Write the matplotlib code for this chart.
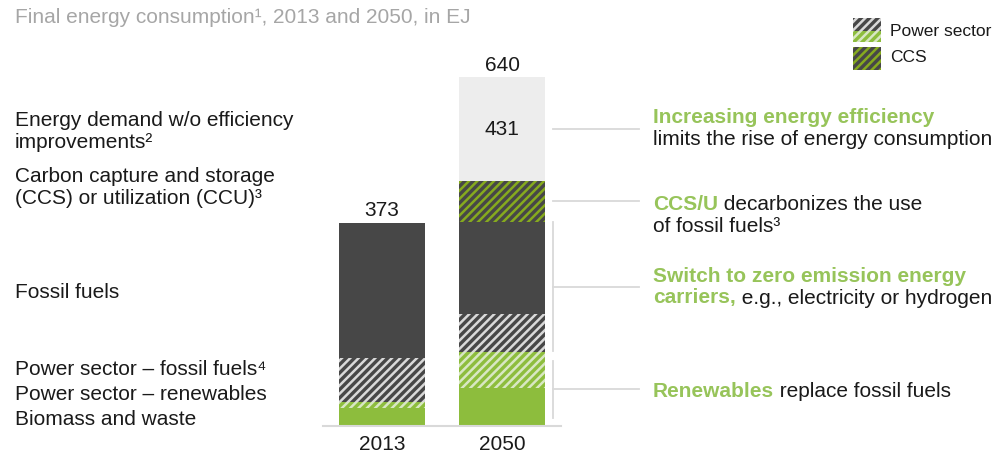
import matplotlib
matplotlib.use("Agg")
import matplotlib.pyplot as plt
import matplotlib.transforms as mtransforms
from matplotlib.patches import Rectangle

# DATA (EJ)
years = ["2013", "2050"]
biomass = [33, 69]
power_renewables = [11, 67]
power_fossil = [81, 69]
fossil_fuels = [248, 170]
ccs = [0, 75]
no_efficiency = [0, 190]
total_labels = ["373", "640"]
efficiency_label = "431"

left_labels = [
    ("Energy demand w/o efficiency", 126),
    ("improvements²", 148),
    ("Carbon capture and storage", 182),
    ("(CCS) or utilization (CCU)³", 204),
    ("Fossil fuels", 298),
    ("Power sector – fossil fuels⁴", 375),
    ("Power sector – renewables", 400),
    ("Biomass and waste", 425),
]

# colours
DARK = "#474747"
GREEN = "#8dbd3d"
LIGHT_GREY = "#ededed"
STRIPE_GREY = "#d9d9d9"
STRIPE_GREEN = "#d8e7c3"
STRIPE_OLIVE = "#86aa1e"
TEXT_GREEN = "#97c45a"
LINE_GREY = "#d9d9d9"
INK = "#1a1a1a"
FS = 15

plt.rcParams["font.family"] = ["Liberation Sans", "DejaVu Sans"]
plt.rcParams["font.size"] = FS
plt.rcParams["hatch.linewidth"] = 1.8

W, H = 996, 455
fig = plt.figure(figsize=(W / 100, H / 100), dpi=100)
# pixel coords measured from the top-left corner
px = mtransforms.Affine2D().scale(0.01, -0.01).translate(0, H / 100) + fig.dpi_scale_trans

# axes: baseline at y=425.7px, 0.5442 px per EJ, bars 120px apart
base_y = 425.7
ymax = 700
ax_h = ymax * 0.5442
ax = fig.add_axes([323 / W, (H - base_y) / H, 238 / W, ax_h / H])
ax.set_xlim((323 - 382) / 120, (561 - 382) / 120)
ax.set_ylim(0, ymax)
ax.patch.set_alpha(0)

x = [0, 1]
bw = 86 / 120

bottom = [0, 0]
def stack(vals, color, hatch=None, ecolor=None):
    global bottom
    ax.bar(x, vals, bw, bottom=bottom, color=color, hatch=hatch,
           edgecolor=ecolor if ecolor else color, linewidth=0)
    bottom = [b + v for b, v in zip(bottom, vals)]

stack(biomass, GREEN)
stack(power_renewables, GREEN, "////", STRIPE_GREEN)
stack(power_fossil, DARK, "////", STRIPE_GREY)
stack(fossil_fuels, DARK)
stack(ccs, DARK, "////", STRIPE_OLIVE)
below_eff = bottom[:]
stack(no_efficiency, LIGHT_GREY)

for xi, tot, lab in zip(x, bottom, total_labels):
    ax.annotate(lab, (xi, tot), xytext=(0, 4.5), textcoords="offset points",
                ha="center", va="baseline", fontsize=FS, color=INK)
ax.text(1, below_eff[1] + no_efficiency[1] / 2, efficiency_label,
        ha="center", va="center", fontsize=FS, color=INK)

# axes styling
for s in ["top", "right", "left"]:
    ax.spines[s].set_visible(False)
ax.spines["bottom"].set_color(LINE_GREY)
ax.spines["bottom"].set_linewidth(1.5)
ax.set_yticks([])
ax.set_xticks(x)
ax.set_xticklabels(years, fontsize=FS, color=INK)
ax.tick_params(axis="x", length=0, pad=7)

# brackets / connector lines to the right-hand annotations
xv = (552.7 - 382) / 120
xe = (639 - 382) / 120
gap = 9 / 0.5442
renew_top = biomass[1] + power_renewables[1]
fossil_top = renew_top + power_fossil[1] + fossil_fuels[1]
lk = dict(color=LINE_GREY, lw=1.3, clip_on=False)
ax.plot([xv, xe], [below_eff[1] + no_efficiency[1] / 2] * 2, **lk)
ax.plot([xv, xe], [fossil_top + ccs[1] / 2] * 2, **lk)
ax.plot([xv, xv], [renew_top + 0.5, fossil_top], **lk)
ax.plot([xv, xe], [(renew_top + fossil_top) / 2] * 2, **lk)
ax.plot([xv, xv], [14, renew_top - gap], **lk)
ax.plot([xv, xe], [renew_top / 2] * 2, **lk)

# title
fig.text(15, 23.3, "Final energy consumption¹, 2013 and 2050, in EJ",
         transform=px, fontsize=FS, color="#a6a6a6", va="baseline")

# left labels
for txt, yb in left_labels:
    fig.text(15, yb, txt, transform=px, fontsize=FS, color=INK, va="baseline")

# right-hand annotations
def two_part(xp, yb, bold, rest):
    t1 = fig.text(xp, yb, bold, transform=px, fontsize=FS, color=TEXT_GREEN,
                  weight="bold", va="baseline")
    if rest:
        fig.add_artist(plt.Annotation(rest, xy=(1, 0), xycoords=t1, va="bottom",
                                      ha="left", fontsize=FS, color=INK))
    return t1

def plain(xp, yb, txt):
    fig.text(xp, yb, txt, transform=px, fontsize=FS, color=INK, va="baseline")

rx = 653
two_part(rx, 123.3, "Increasing energy efficiency", "")
plain(rx, 145, "limits the rise of energy consumption")
two_part(rx, 210, "CCS/U", " decarbonizes the use")
plain(rx, 231.7, "of fossil fuels³")
two_part(rx, 281.7, "Switch to zero emission energy", "")
two_part(rx, 303.5, "carriers,", " e.g., electricity or hydrogen")
two_part(rx, 396.7, "Renewables", " replace fossil fuels")

# legend (rectangles given by top-left corner in pixel coords)
fig.add_artist(Rectangle((853, 18.3), 28, 12.4, transform=px, facecolor=DARK,
                         hatch="////", edgecolor=STRIPE_GREY, lw=0))
fig.add_artist(Rectangle((853, 30.7), 28, 11.6, transform=px, facecolor=GREEN,
                         hatch="////", edgecolor=STRIPE_GREEN, lw=0))
fig.add_artist(Rectangle((853, 46.7), 28, 23.3, transform=px, facecolor=DARK,
                         hatch="////", edgecolor=STRIPE_OLIVE, lw=0))
fig.text(890, 31.7, "Power sector", transform=px, fontsize=12.5, color=INK, va="center")
fig.text(890, 58, "CCS", transform=px, fontsize=12.5, color=INK, va="center")

fig.savefig("out.png", dpi=100)
